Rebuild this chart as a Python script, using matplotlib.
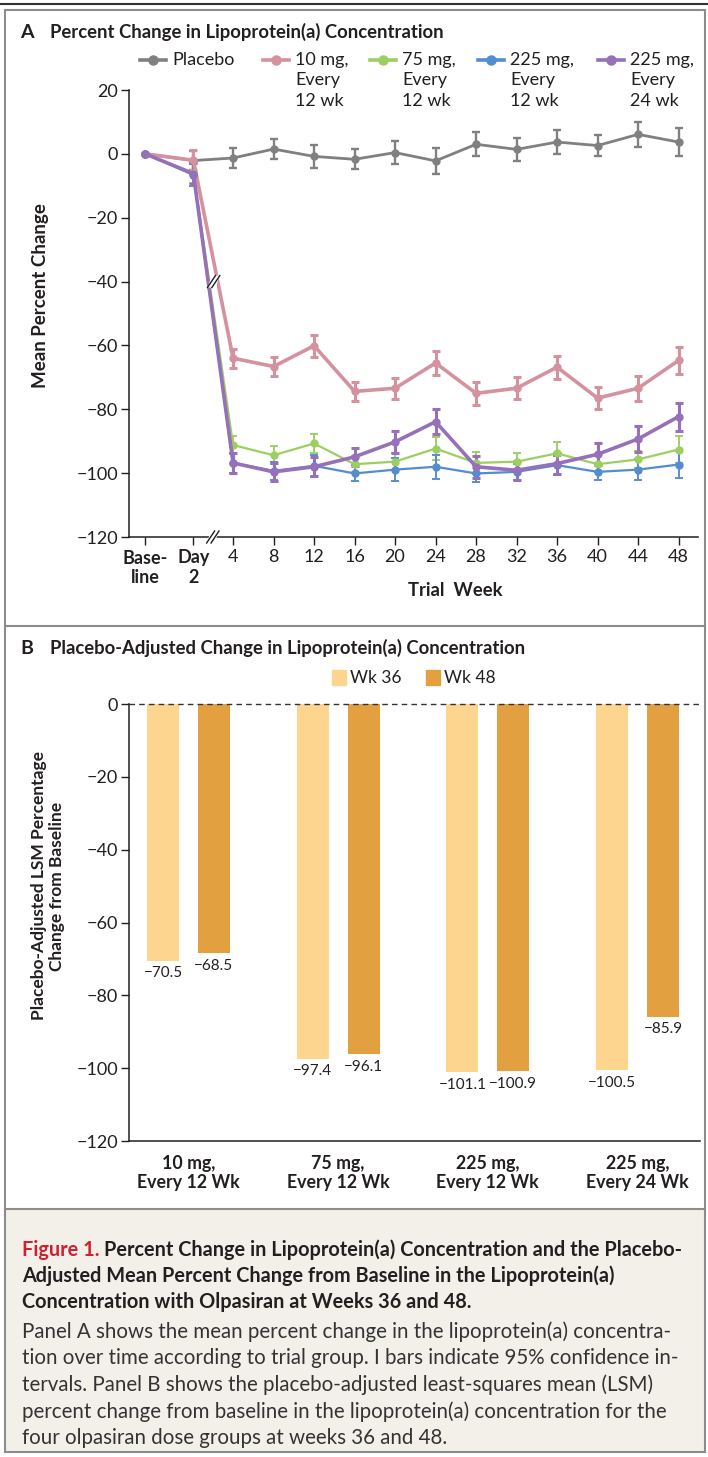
import numpy as np
import matplotlib.pyplot as plt
from matplotlib.lines import Line2D
from matplotlib.patches import Rectangle

plt.rcParams['font.family'] = ['Lato', 'DejaVu Sans']
plt.rcParams['axes.unicode_minus'] = True

W, H = 708, 1457
TXT = '#231f20'

# ---- Panel A data (mean percent change, half-width of 95% CI) ----
weeks = [4, 8, 12, 16, 20, 24, 28, 32, 36, 40, 44, 48]
time_labels = ['Base-\nline', 'Day\n2'] + [str(w) for w in weeks]

placebo = [0, -2.1, -1.3, 1.5, -0.8, -1.7, 0.4, -2.2, 3.0, 1.4, 3.7, 2.6, 6.1, 3.7]
placebo_ci = [0, 3.0, 3.2, 3.2, 3.7, 3.1, 3.6, 4.0, 3.8, 3.5, 3.7, 3.4, 4.0, 4.5]
mg10_q12 = [0, -2.0, -64.0, -66.6, -60.1, -74.4, -73.4, -65.5, -75.0, -73.4, -66.8, -76.5, -73.4, -64.7]
mg10_q12_ci = [0, 3.1, 3.0, 3.0, 3.4, 3.0, 3.3, 3.9, 3.6, 3.4, 3.6, 3.4, 3.9, 4.3]
mg75_q12 = [0, -6.0, -91.2, -94.4, -90.7, -97.2, -96.4, -92.3, -96.8, -96.4, -93.8, -97.2, -95.7, -92.6]
mg75_q12_ci = [0, 3.0, 2.8, 2.8, 3.1, 2.5, 2.7, 3.7, 3.5, 2.8, 3.4, 2.5, 2.6, 4.2]
mg225_q12 = [0, -6.6, -96.8, -99.3, -97.7, -100.1, -98.9, -98.0, -100.1, -99.6, -97.5, -99.6, -98.9, -97.3]
mg225_q12_ci = [0, 3.4, 3.0, 2.8, 3.4, 2.5, 3.5, 3.7, 2.6, 2.6, 3.0, 2.5, 3.2, 4.2]
mg225_q24 = [0, -6.2, -96.8, -99.6, -98.0, -94.9, -90.2, -83.9, -98.0, -99.1, -97.0, -94.1, -89.3, -82.3]
mg225_q24_ci = [0, 3.2, 3.1, 2.8, 3.0, 2.9, 3.5, 3.9, 3.4, 3.0, 3.3, 3.4, 4.0, 4.4]

series = [
    ('Placebo', placebo, placebo_ci, '#808080', 2.0),
    ('10 mg,\nEvery\n12 wk', mg10_q12, mg10_q12_ci, '#d4929f', 2.6),
    ('75 mg,\nEvery\n12 wk', mg75_q12, mg75_q12_ci, '#9dce62', 1.6),
    ('225 mg,\nEvery\n12 wk', mg225_q12, mg225_q12_ci, '#548cd0', 1.6),
    ('225 mg,\nEvery\n24 wk', mg225_q24, mg225_q24_ci, '#9670b9', 2.6),
]

# ---- Panel B data ----
groups = ['10 mg,\nEvery 12 Wk', '75 mg,\nEvery 12 Wk', '225 mg,\nEvery 12 Wk', '225 mg,\nEvery 24 Wk']
wk36 = [-70.5, -97.4, -101.1, -100.5]
wk48 = [-68.5, -96.1, -100.9, -85.9]


def fx(x):
    return x / W


def fy(y):
    return 1 - y / H


fig = plt.figure(figsize=(W / 100, H / 100), dpi=100)

# frame
fig.add_artist(Line2D([0, 1], [fy(3.5), fy(3.5)], color='#333333', lw=1.5))
fig.add_artist(Rectangle((fx(5), fy(1452)), fx(700), (1452 - 10) / H, fill=False,
                         ec='#8c8c8c', lw=1.5))
fig.add_artist(Rectangle((fx(5.5), fy(1452)), fx(699), (1452 - 1209) / H, fc='#f3f0ea',
                         ec='none', zorder=-5))
for yy in (626, 1209):
    fig.add_artist(Line2D([fx(5), fx(705)], [fy(yy), fy(yy)], color='#8c8c8c', lw=1.5))

# ================= Panel A =================
axA = fig.add_axes([fx(129), fy(537), fx(698 - 129), (537 - 90) / H])
xpos = np.array([-2.17, -0.98] + [(w - 4) / 4 for w in weeks])

for name, vals, ci, col, lw in series:
    axA.errorbar(xpos, vals, yerr=ci, color=col, lw=lw, elinewidth=lw * 0.85,
                 capsize=3.2, capthick=lw * 0.85, marker='o', ms=5, zorder=3)

axA.set_xlim(-2.57, 11.48)
axA.set_ylim(-120, 20)
axA.set_yticks(range(-120, 21, 20))
axA.set_xticks(xpos)
axA.set_xticklabels(time_labels, linespacing=1.15)
for lab in axA.get_xticklabels()[:2]:
    lab.set_fontweight('bold')
axA.tick_params(axis='both', labelsize=13, colors=TXT, length=6, width=1)
axA.tick_params(axis='x', pad=3)
axA.tick_params(axis='y', pad=2)
for s in ('top', 'right'):
    axA.spines[s].set_visible(False)
for s in ('left', 'bottom'):
    axA.spines[s].set_color(TXT)
    axA.spines[s].set_linewidth(1.1)

# axis break marks
xr = (11.48 + 2.57) / (698 - 129)
yr = 140 / (537 - 90)


def brk(xc, yc):
    for off in (-2.2, 2.2):
        axA.plot([xc + (off - 4) * xr, xc + (off + 4) * xr], [yc - 6 * yr, yc + 6 * yr],
                 color=TXT, lw=1.0, clip_on=False, zorder=6)
    axA.fill([xc - 5.8 * xr, xc - 2.2 * xr, xc + 5.8 * xr, xc + 2.2 * xr],
             [yc - 6 * yr, yc + 6 * yr, yc + 6 * yr, yc - 6 * yr],
             color='white', clip_on=False, zorder=5, lw=0)


brk(-0.5, -120)
brk(-0.48, -40)

fig.text(fx(20), fy(32), 'A', fontsize=14, fontweight='bold', color=TXT, va='center')
fig.text(fx(50), fy(32), 'Percent Change in Lipoprotein(a) Concentration', fontsize=13.3,
         fontweight='bold', color=TXT, va='center')
fig.text(fx(41), fy(296), 'Mean Percent Change', rotation=90, fontsize=13.5,
         fontweight='bold', color=TXT, va='center', ha='center')
fig.text(fx(455), fy(590), 'Trial  Week', fontsize=13.2, fontweight='bold', color=TXT,
         va='center', ha='center')

# legend
leg_x = [140, 263, 370, 478, 598]
for (name, vals, ci, col, lw), x0 in zip(series, leg_x):
    fig.add_artist(Line2D([fx(x0), fx(x0 + 26)], [fy(60), fy(60)], color=col, lw=2.6))
    fig.add_artist(Line2D([fx(x0 + 13)], [fy(60)], color=col, marker='o', ms=6.5))
    fig.text(fx(x0 + 32), fy(52), name, fontsize=13, color=TXT, va='top', ha='left',
             linespacing=1.34)

# ================= Panel B =================
axB = fig.add_axes([fx(129), fy(1141), fx(700 - 129), (1141 - 704) / H])
gx = np.arange(len(groups))
bw = 0.214
off = 0.170
b36 = axB.bar(gx - off, wk36, bw, color='#fdd58e', label='Wk 36')
b48 = axB.bar(gx + off, wk48, bw, color='#e2a040', label='Wk 48')
for bars, vals in ((b36, wk36), (b48, wk48)):
    for r, v in zip(bars, vals):
        axB.annotate(f'\u2212{abs(v):.1f}', (r.get_x() + r.get_width() / 2, v),
                     xytext=(0, -4), textcoords='offset points', ha='center', va='top',
                     fontsize=11, color=TXT)
axB.axhline(0, color='#333333', lw=1.0, ls=(0, (4, 3)), clip_on=False, zorder=4)
axB.set_xlim(-0.397, 3.417)
axB.set_ylim(-120, 0)
axB.set_yticks(range(-120, 1, 20))
axB.set_xticks(gx)
axB.set_xticklabels(groups, fontweight='bold', fontsize=12.8, linespacing=1.15)
axB.tick_params(axis='y', labelsize=13, colors=TXT, length=6, width=1, pad=2)
axB.tick_params(axis='x', length=0, pad=10, colors=TXT)
for s in ('top', 'right'):
    axB.spines[s].set_visible(False)
for s in ('left', 'bottom'):
    axB.spines[s].set_color(TXT)
    axB.spines[s].set_linewidth(1.1)

fig.text(fx(20), fy(648), 'B', fontsize=14, fontweight='bold', color=TXT, va='center')
fig.text(fx(50), fy(648), 'Placebo-Adjusted Change in Lipoprotein(a) Concentration',
         fontsize=13.3, fontweight='bold', color=TXT, va='center')
fig.text(fx(48), fy(886), 'Placebo-Adjusted LSM Percentage\nChange from Baseline',
         rotation=90, fontsize=12.5, fontweight='bold', color=TXT, va='center',
         ha='center', linespacing=1.1)

# panel B legend
for x0, col, lab in ((332, '#fdd58e', 'Wk 36'), (426, '#e2a040', 'Wk 48')):
    fig.add_artist(Rectangle((fx(x0), fy(685)), fx(14), 15 / H, color=col))
    fig.text(fx(x0 + 18), fy(678), lab, fontsize=12.5, color=TXT, va='center')

# ================= Caption =================
fig.canvas.draw()
red = fig.text(fx(22), fy(1250), 'Figure 1.', fontsize=14.3, fontweight='bold',
               color='#d0222e', va='center')
bb = red.get_window_extent(renderer=fig.canvas.get_renderer())
fig.text(bb.x1 / W + fx(5), fy(1250),
         'Percent Change in Lipoprotein(a) Concentration and the Placebo-',
         fontsize=14.3, fontweight='bold', color=TXT, va='center')
bold_lines = ['Adjusted Mean Percent Change from Baseline in the Lipoprotein(a)',
              'Concentration with Olpasiran at Weeks 36 and 48.']
for i, t in enumerate(bold_lines):
    fig.text(fx(22), fy(1276 + 26 * i), t, fontsize=14.3, fontweight='bold', color=TXT,
             va='center')
body = ['Panel A shows the mean percent change in the lipoprotein(a) concentra-',
        'tion over time according to trial group. I bars indicate 95% confidence in-',
        'tervals. Panel B shows the placebo-adjusted least-squares mean (LSM)',
        'percent change from baseline in the lipoprotein(a) concentration for the',
        'four olpasiran dose groups at weeks 36 and 48.']
for i, t in enumerate(body):
    fig.text(fx(22), fy(1332 + 26.5 * i), t, fontsize=14.8, color='#333333', va='center')

fig.savefig('out.png', dpi=100)
